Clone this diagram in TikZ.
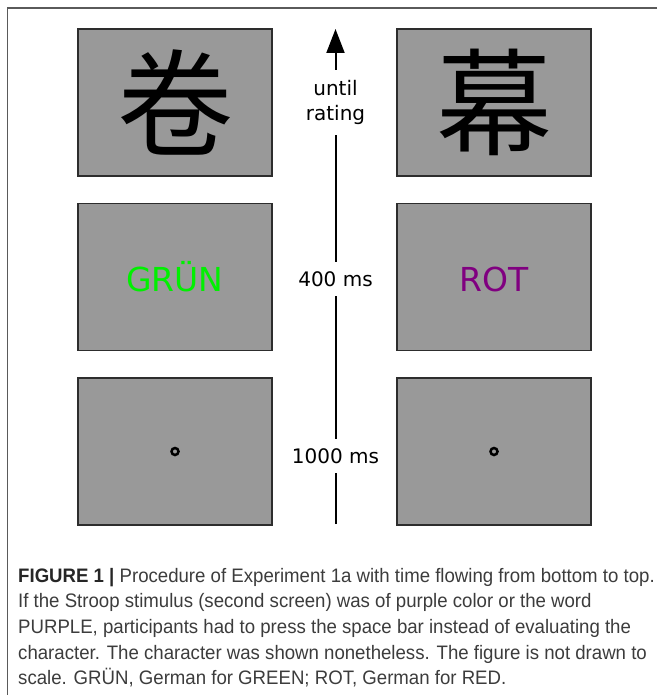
\documentclass[tikz,border=0pt]{standalone}
\usepackage{fontspec}
\setmainfont{DejaVu Sans}
\newfontfamily\cjkfont{Noto Sans CJK SC}
\newfontfamily\capfont[FakeStretch=0.955]{Liberation Sans}
\usetikzlibrary{arrows.meta}
\definecolor{screengray}{RGB}{153,153,153}
\definecolor{edgegray}{RGB}{45,45,45}
\definecolor{framegray}{RGB}{90,90,90}
\definecolor{stroopgreen}{RGB}{0,240,0}
\definecolor{strooppurple}{RGB}{128,0,128}
\definecolor{captext}{RGB}{60,60,60}
\begin{document}
\begin{tikzpicture}[x=1pt,y=-1pt,
  screen/.style={draw=edgegray, line width=1.6pt, fill=screengray,
    minimum width=194pt, minimum height=147pt, inner sep=0pt},
  glyph/.style={font=\cjkfont\fontsize{116}{116}\selectfont, inner sep=0pt},
  word/.style={font=\fontsize{33}{33}\selectfont, inner sep=0pt, anchor=base},
  fixdot/.style={circle, draw=black, line width=2.5pt, minimum size=7pt, inner sep=0pt},
  timelabel/.style={fill=white, inner xsep=3pt, align=center,
    font=\fontsize{20}{25}\selectfont},
  capline/.style={anchor=base west, inner sep=0pt, text=captext,
    font=\capfont\fontsize{19.5}{22}\selectfont},
  timeline/.style={line width=2pt, -{Triangle[length=24pt,width=18pt]}}
]
\useasboundingbox (0,0) rectangle (657,695);
% frame
\coordinate (frTR) at (657,8);
\coordinate (frTL) at (7.5,8);
\coordinate (frBL) at (7.5,695);
\draw[framegray, line width=1.5pt] (frTR) -- (frTL) -- (frBL);

% screens
\node[screen] (s1l) at (175,102.5) {};
\node[screen] (s1r) at (494,102.5) {};
\node[screen] (s2l) at (175,277) {};
\node[screen] (s2r) at (494,277) {};
\node[screen] (s3l) at (175,451.5) {};
\node[screen] (s3r) at (494,451.5) {};

% contents
\node[glyph] (chl) at (s1l.center) {卷};
\node[glyph] (chr) at (s1r.center) {幕};
\node[word, text=stroopgreen] (wgreen) at (175,291) {GRÜN};
\node[word, text=strooppurple] (wred) at (494,291) {ROT};
\node[fixdot] (fixl) at (s3l.center) {};
\node[fixdot] (fixr) at (s3r.center) {};

% time arrow
\coordinate (tbase) at (335.5,524);
\coordinate (ttip) at (335.5,29);
\draw[timeline] (tbase) -- (ttip);
\node[timelabel, minimum height=65pt] (lrate) at (335.5,102.5) {until\\rating};
\node[timelabel, minimum height=34pt] (l400) at (335.5,279) {400 ms};
\node[timelabel, minimum height=34pt] (l1000) at (335.5,456) {1000 ms};

% caption
\node[capline] (cap1) at (18,582) {\textbf{\color{black!85}FIGURE 1 |} Procedure of Experiment 1a with time flowing from bottom to top.};
\node[capline] (cap2) at (18,607.7) {If the Stroop stimulus (second screen) was of purple color or the word};
\node[capline] (cap3) at (18,633.4) {PURPLE, participants had to press the space bar instead of evaluating the};
\node[capline] (cap4) at (18,659.1) {character. The character was shown nonetheless. The figure is not drawn to};
\node[capline] (cap5) at (18,684.8) {scale. GRÜN, German for GREEN; ROT, German for RED.};
\end{tikzpicture}
\end{document}
